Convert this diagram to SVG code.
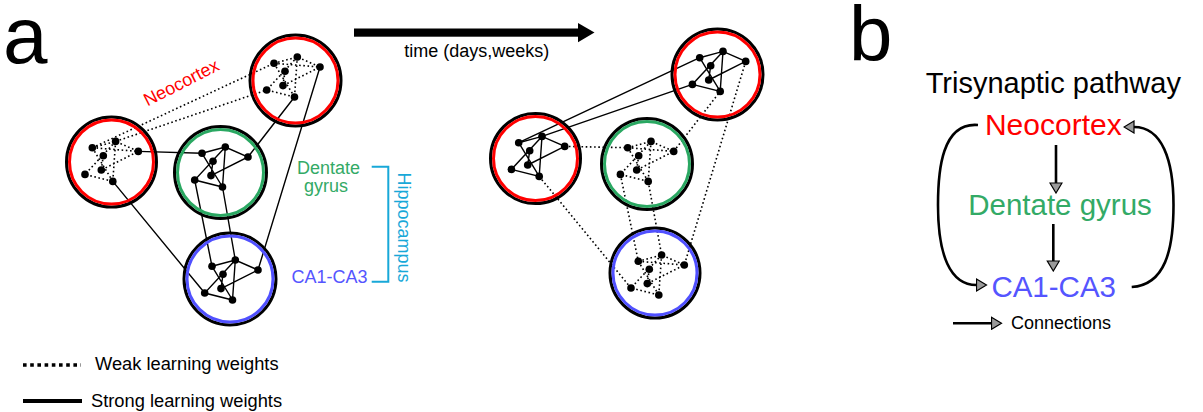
<svg xmlns="http://www.w3.org/2000/svg" xmlns:xlink="http://www.w3.org/1999/xlink" width="1203" height="412" viewBox="0 0 1203 412">
<style>
text{font-family:"Liberation Sans",Arial,sans-serif}
.blk{fill:none;stroke:#000;stroke-width:3}
.red{fill:none;stroke:#ff0000;stroke-width:3}
.grn{fill:none;stroke:#2aa862;stroke-width:3}
.blu{fill:none;stroke:#5050ff;stroke-width:3}
.s{fill:none;stroke:#000;stroke-width:1.4}
.w{fill:none;stroke:#000;stroke-width:1.6;stroke-dasharray:1.6 2.6}
.b{fill:none;stroke:#000;stroke-width:2.6}
</style>
<defs>
<marker id="tri" viewBox="0 0 12 14" refX="1" refY="7" markerWidth="12" markerHeight="14" markerUnits="userSpaceOnUse" orient="auto">
<path d="M1,1 L11,7 L1,13 Z" fill="#9a9a9a" stroke="#000" stroke-width="1.2"/>
</marker>
<g id="dots">
<circle cx="0" cy="0" r="3.8"/><circle cx="23.3" cy="-6.3" r="3.8"/><circle cx="11" cy="8" r="3.8"/><circle cx="46" cy="3.7" r="3.8"/><circle cx="9" cy="22.3" r="3.8"/><circle cx="-7.3" cy="26.7" r="3.8"/><circle cx="20.5" cy="33.7" r="3.8"/>
</g>
<g id="strongNet">
<path class="s" d="M0,0 L23.3,-6.3 L46,3.7 L9,22.3 M23.3,-6.3 L-7.3,26.7 L20.5,33.7 L23.3,-6.3 M0,0 L20.5,33.7 M11,8 L9,22.3"/>
<use xlink:href="#dots"/>
</g>
<g id="weakNet">
<path class="w" d="M0,0 L23.3,-6.3 L46,3.7 L9,22.3 M23.3,-6.3 L-7.3,26.7 L20.5,33.7 M23.3,-6.3 L20.5,33.7 M0,0 L20.5,33.7 M11,8 L9,22.3 M0,0 L46,3.7"/>
<use xlink:href="#dots"/>
</g>
</defs>
<rect width="1203" height="412" fill="#fff"/>

<text x="3" y="63" font-size="80">a</text>
<text x="849" y="61" font-size="78">b</text>

<g id="connectors">
<path class="s" d="M138.3,151.4 L202,153.3 M112.8,181.4 L204.7,293 M248,157 L294.5,97 M320,67 L258,270 M194.7,180 L212,266.3 M222.5,187 L235.3,260"/>
<path class="w" d="M92.3,147.7 L274,63.3 M115.6,141.4 L266.7,90"/>
<path class="s" d="M518.7,142.7 L699.7,57.7 M542,136.4 L692.4,84.4"/>
<path class="w" d="M564.7,146.4 L627.7,147.7 M539.2,176.4 L631,288 M673.7,151.4 L720.2,91.4 M745.7,61.4 L684.3,265 M620.4,174.4 L638.3,261.3 M648.2,181.4 L661.6,255"/>
<path class="b" d="M1056,145 L1056,183" marker-end="url(#tri)"/>
<path class="b" d="M1053.3,224 L1053.3,261" marker-end="url(#tri)"/>
<path class="b" d="M978,125 C942,122 938,170 938,205 C938,255 950,285 976.5,285" marker-end="url(#tri)"/>
<path class="b" d="M1131.7,287 C1165,285 1173.5,250 1173.5,205 C1173.5,160 1162,127 1134,127" marker-end="url(#tri)"/>
</g>

<g id="nodeA"><circle class="blk" cx="111.5" cy="162" r="45"/><circle class="red" cx="111.5" cy="162" r="42"/><use xlink:href="#weakNet" transform="translate(92.3,147.7)"/></g>
<g id="nodeB"><circle class="blk" cx="220.5" cy="172.5" r="46"/><circle class="grn" cx="220.5" cy="172.5" r="43"/><use xlink:href="#strongNet" transform="translate(202,153.3)"/></g>
<g id="nodeC"><circle class="blk" cx="295.5" cy="80.5" r="45.5"/><circle class="red" cx="295.5" cy="80.5" r="42.5"/><use xlink:href="#weakNet" transform="translate(274,63.3)"/></g>
<g id="nodeD"><circle class="blk" cx="230" cy="279" r="46"/><circle class="blu" cx="230" cy="279" r="43"/><use xlink:href="#strongNet" transform="translate(212,266.3)"/></g>
<g id="nodeE"><circle class="blk" cx="535.5" cy="158.5" r="45"/><circle class="red" cx="535.5" cy="158.5" r="42"/><use xlink:href="#strongNet" transform="translate(518.7,142.7)"/></g>
<g id="nodeF"><circle class="blk" cx="647" cy="164" r="45.5"/><circle class="grn" cx="647" cy="164" r="42.5"/><use xlink:href="#weakNet" transform="translate(627.7,147.7)"/></g>
<g id="nodeG"><circle class="blk" cx="717.5" cy="74.5" r="45.5"/><circle class="red" cx="717.5" cy="74.5" r="42.5"/><use xlink:href="#strongNet" transform="translate(699.7,57.7)"/></g>
<g id="nodeH"><circle class="blk" cx="655" cy="273" r="45"/><circle class="blu" cx="655" cy="273" r="42"/><use xlink:href="#weakNet" transform="translate(638.3,261.3)"/></g>

<g id="timeArrow">
<rect x="354" y="28.5" width="226" height="8.2" fill="#000"/>
<polygon points="578,23 594.5,32.6 578,42.3" fill="#000"/>
<text x="476.7" y="56.5" font-size="18" text-anchor="middle">time (days,weeks)</text>
</g>

<g id="labels">
<text transform="translate(184,88) rotate(-27)" font-size="18" fill="#ff0000" text-anchor="middle">Neocortex</text>
<text x="328.5" y="173.5" font-size="18" fill="#33aa66" text-anchor="middle">Dentate</text>
<text x="326" y="191.5" font-size="18" fill="#33aa66" text-anchor="middle">gyrus</text>
<text x="329.5" y="283.3" font-size="18" fill="#5555ff" text-anchor="middle">CA1-CA3</text>
<path d="M371.7,166.7 L388.3,166.7 L388.3,281.7 L371.7,281.7" fill="none" stroke="#18a8d8" stroke-width="2"/>
<text transform="translate(397.5,227.5) rotate(90)" font-size="18" fill="#18a8d8" text-anchor="middle">Hippocampus</text>
</g>

<g id="legendA">
<path d="M23,365 L81,365" fill="none" stroke="#000" stroke-width="3.3" stroke-dasharray="3.6 3.6"/>
<text x="95" y="370" font-size="18.3">Weak learning weights</text>
<path d="M23,401 L82,401" fill="none" stroke="#000" stroke-width="4"/>
<text x="91" y="406.5" font-size="18.3">Strong learning weights</text>
</g>

<g id="panelB">
<text x="1053.3" y="92.7" font-size="29" text-anchor="middle">Trisynaptic pathway</text>
<g id="nodeNeo"><text x="1053.3" y="135" font-size="30" fill="#ff0000" text-anchor="middle">Neocortex</text></g>
<g id="nodeDG"><text x="1060" y="215" font-size="29.5" fill="#33aa66" text-anchor="middle">Dentate gyrus</text></g>
<g id="nodeCA"><text x="1053.7" y="296.7" font-size="29.5" fill="#5555ff" text-anchor="middle">CA1-CA3</text></g>
<g id="legendB">
<path class="b" d="M953,323.3 L991.5,323.3" marker-end="url(#tri)"/>
<text x="1011" y="328.5" font-size="18">Connections</text>
</g>
</g>
</svg>
